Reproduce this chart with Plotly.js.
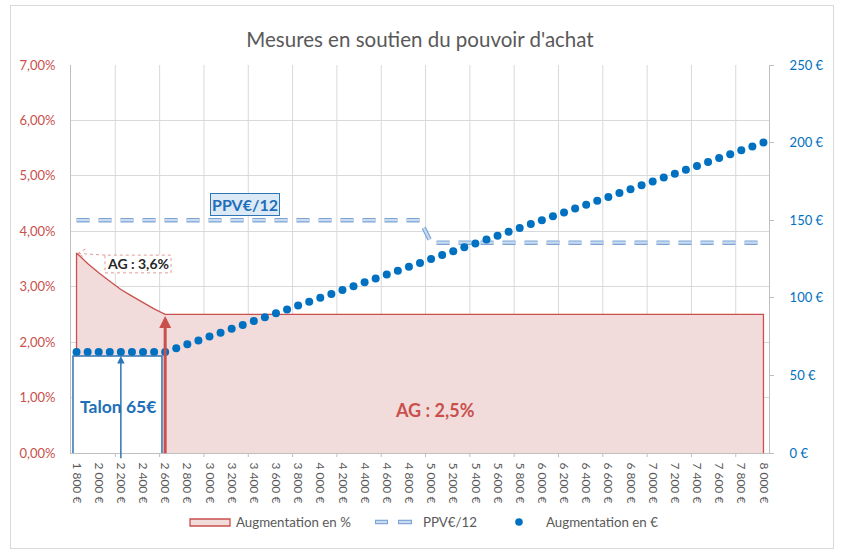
<!DOCTYPE html>
<html>
<head>
<meta charset="utf-8">
<script src="https://cdn.plot.ly/plotly-3.0.1.min.js"></script>
<style>
  html, body { margin: 0; padding: 0; background: #ffffff; }
  #wrap { position: relative; width: 842px; height: 555px; }
  #chart { position: absolute; left: 0; top: 0; width: 842px; height: 555px; }
  #frame { position: absolute; left: 10px; top: 5px; width: 822px; height: 542px; border: 1px solid #d9d9d9; pointer-events: none; }
</style>
</head>
<body>
<div id="wrap"><div id="chart"></div><div id="frame"></div></div>
<script>
// ---- data ----
const salaries = [1800,1900,2000,2100,2200,2300,2400,2500,2600,2700,2800,2900,3000,3100,3200,3300,3400,3500,3600,3700,3800,3900,4000,4100,4200,4300,4400,4500,4600,4700,4800,4900,5000,5100,5200,5300,5400,5500,5600,5700,5800,5900,6000,6100,6200,6300,6400,6500,6600,6700,6800,6900,7000,7100,7200,7300,7400,7500,7600,7700,7800,7900,8000];

const augmentationPct = [3.61,3.42,3.25,3.10,2.95,2.83,2.71,2.60,2.50,2.5,2.5,2.5,2.5,2.5,2.5,2.5,2.5,2.5,2.5,2.5,2.5,2.5,2.5,2.5,2.5,2.5,2.5,2.5,2.5,2.5,2.5,2.5,2.5,2.5,2.5,2.5,2.5,2.5,2.5,2.5,2.5,2.5,2.5,2.5,2.5,2.5,2.5,2.5,2.5,2.5,2.5,2.5,2.5,2.5,2.5,2.5,2.5,2.5,2.5,2.5,2.5,2.5,2.5];

const augmentationEur = [65,65,65,65,65,65,65,65,65,67.5,70,72.5,75,77.5,80,82.5,85,87.5,90,92.5,95,97.5,100,102.5,105,107.5,110,112.5,115,117.5,120,122.5,125,127.5,130,132.5,135,137.5,140,142.5,145,147.5,150,152.5,155,157.5,160,162.5,165,167.5,170,172.5,175,177.5,180,182.5,185,187.5,190,192.5,195,197.5,200];

const ppvMonthly = [150,150,150,150,150,150,150,150,150,150,150,150,150,150,150,150,150,150,150,150,150,150,150,150,150,150,150,150,150,150,150,150,135.5,135.5,135.5,135.5,135.5,135.5,135.5,135.5,135.5,135.5,135.5,135.5,135.5,135.5,135.5,135.5,135.5,135.5,135.5,135.5,135.5,135.5,135.5,135.5,135.5,135.5,135.5,135.5,135.5,135.5,135.5];

const xTickVals = [1800,2000,2200,2400,2600,2800,3000,3200,3400,3600,3800,4000,4200,4400,4600,4800,5000,5200,5400,5600,5800,6000,6200,6400,6600,6800,7000,7200,7400,7600,7800,8000];
const xTickText = ["1 800 €","2 000 €","2 200 €","2 400 €","2 600 €","2 800 €","3 000 €","3 200 €","3 400 €","3 600 €","3 800 €","4 000 €","4 200 €","4 400 €","4 600 €","4 800 €","5 000 €","5 200 €","5 400 €","5 600 €","5 800 €","6 000 €","6 200 €","6 400 €","6 600 €","6 800 €","7 000 €","7 200 €","7 400 €","7 600 €","7 800 €","8 000 €"];
const xGridVals = [2150,2550,2950,3350,3750,4150,4550,4950,5350,5750,6150,6550,6950,7350,7750];

const leftTickVals = [0,1,2,3,4,5,6,7];
const leftTickText = ["0,00%","1,00%","2,00%","3,00%","4,00%","5,00%","6,00%","7,00%"];
const rightTickVals = [0,50,100,150,200,250];
const rightTickText = ["0 €","50 €","100 €","150 €","200 €","250 €"];

const seriesNames = ["Augmentation en %", "PPV€/12", "Augmentation en €"];

// ---- styles ----
const FONT = 'Lato, "Open Sans", sans-serif';
const RED = '#c9504d';
const BLUE = '#0070c0';
const BOXBLUE = '#2e75b6';
const GRID = '#d9d9d9';
const GREY = '#595959';
const PPV_OUT = '#7ba3d6';
const PPV_IN = '#c9dbf1';

// area closed to zero at both ends
const areaX = [salaries[0]].concat(salaries, [salaries[salaries.length - 1]]);
const areaY = [0].concat(augmentationPct, [0]);

const traces = [
  {
    name: seriesNames[0],
    x: areaX, y: areaY,
    type: 'scatter', mode: 'lines',
    line: {color: RED, width: 1.3},
    fill: 'tozeroy', fillcolor: '#f2dcdb',
    xaxis: 'x', yaxis: 'y'
  },
  {
    name: seriesNames[1],
    x: salaries, y: ppvMonthly,
    type: 'scatter', mode: 'lines',
    line: {color: PPV_OUT, width: 4.5, dash: '13px,9px'},
    xaxis: 'x', yaxis: 'y2'
  },
  {
    name: seriesNames[1] + ' (inner)',
    x: salaries, y: ppvMonthly,
    type: 'scatter', mode: 'lines',
    line: {color: PPV_IN, width: 2.2, dash: '13px,9px'},
    xaxis: 'x', yaxis: 'y2'
  },
  {
    name: seriesNames[2],
    x: salaries, y: augmentationEur,
    type: 'scatter', mode: 'markers',
    marker: {color: BLUE, size: 8},
    xaxis: 'x', yaxis: 'y2'
  }
];

const shapes = [];
// vertical gridlines and x ticks at category-group boundaries
xGridVals.forEach(function (v) {
  shapes.push({type: 'line', xref: 'x', yref: 'paper', x0: v, x1: v, y0: 0, y1: 1,
               line: {color: GRID, width: 1}, layer: 'below'});
  shapes.push({type: 'line', xref: 'x', yref: 'paper', x0: v, x1: v, y0: 0, y1: -0.0105,
               line: {color: '#bfbfbf', width: 1}, layer: 'above'});
});
// Talon box
shapes.push({type: 'rect', xref: 'x', yref: 'y', x0: 1768, x1: 2571, y0: -0.07, y1: 1.75,
   line: {color: BOXBLUE, width: 1.5}, fillcolor: '#ffffff', layer: 'above'});
// AG 3,6% dashed box
shapes.push({type: 'rect', xref: 'x', yref: 'y', x0: 2057, x1: 2653, y0: 3.25, y1: 3.57,
   line: {color: '#e39a98', width: 1, dash: 'dot'}, fillcolor: '#ffffff', layer: 'above'});
// leader line to the start of the curve
shapes.push({type: 'path', xref: 'x', yref: 'y',
   path: 'M 2057 3.57 L 1815 3.6 M 1880 3.68 L 1810 3.6 L 1880 3.52',
   line: {color: '#e39a98', width: 1, dash: 'dot'}, layer: 'above'});

// ---- manual legend (paper coordinates) ----
const LY = -0.1778;
shapes.push({type: 'rect', xref: 'paper', yref: 'paper', x0: 0.1705, x1: 0.2278, y0: -0.1881, y1: -0.1701,
   line: {color: RED, width: 1.3}, fillcolor: '#f2dcdb'});
[[0.4355, 0.4542], [0.4685, 0.4885]].forEach(function (d) {
  shapes.push({type: 'line', xref: 'paper', yref: 'paper', x0: d[0], x1: d[1], y0: LY, y1: LY,
               line: {color: PPV_OUT, width: 4.5}});
  shapes.push({type: 'line', xref: 'paper', yref: 'paper', x0: d[0] + 0.0015, x1: d[1] - 0.0015, y0: LY, y1: LY,
               line: {color: PPV_IN, width: 2.2}});
});
shapes.push({type: 'circle', xref: 'paper', yref: 'paper', x0: 0.6364, x1: 0.6472, y0: -0.1875, y1: -0.1681,
   line: {color: BLUE, width: 0}, fillcolor: BLUE});

const legendFont = {family: FONT, size: 13.3, color: GREY};
const annotations = [
  {xref: 'paper', yref: 'paper', x: 0.2330, y: LY, xanchor: 'left', yanchor: 'middle',
   text: seriesNames[0], showarrow: false, font: legendFont},
  {xref: 'paper', yref: 'paper', x: 0.5010, y: LY, xanchor: 'left', yanchor: 'middle',
   text: seriesNames[1], showarrow: false, font: legendFont},
  {xref: 'paper', yref: 'paper', x: 0.6771, y: LY, xanchor: 'left', yanchor: 'middle',
   text: seriesNames[2], showarrow: false, font: legendFont},

  {xref: 'x', yref: 'y2', x: 3320, y: 160.4, text: '<b>PPV€/12</b>', showarrow: false,
   font: {family: FONT, size: 16, color: '#1f6fb8'}, bgcolor: '#dce9f7',
   bordercolor: BOXBLUE, borderwidth: 1, borderpad: 1},
  {xref: 'x', yref: 'y', x: 2355, y: 3.41, text: '<b>AG : 3,6%</b>', showarrow: false,
   font: {family: FONT, size: 14, color: '#262626'}},
  // blue arrow inside talon box
  {xref: 'x', yref: 'y', axref: 'x', ayref: 'y', x: 2200, y: 1.75, ax: 2200, ay: -0.12,
   showarrow: true, arrowhead: 2, arrowsize: 1, arrowwidth: 1.5, arrowcolor: BOXBLUE, text: ''},
  {xref: 'x', yref: 'y', x: 2170, y: 0.83, text: '<b>Talon 65€</b>', showarrow: false,
   font: {family: FONT, size: 17.5, color: '#1f6fb8'}},
  // red arrow at 2 600 €
  {xref: 'x', yref: 'y', axref: 'x', ayref: 'y', x: 2600, y: 2.47, ax: 2600, ay: -0.03,
   showarrow: true, arrowhead: 2, arrowsize: 0.8, arrowwidth: 3, arrowcolor: RED, text: ''},
  {xref: 'x', yref: 'y', x: 5035, y: 0.78, text: '<b>AG : 2,5%</b>', showarrow: false,
   font: {family: FONT, size: 18, color: RED}}
];

const layout = {
  width: 842, height: 555,
  margin: {l: 71, r: 73, t: 65, b: 102, pad: 0},
  paper_bgcolor: '#ffffff', plot_bgcolor: '#ffffff',
  font: {family: FONT, size: 12, color: GREY},
  title: {text: "Mesures en soutien du pouvoir d'achat", x: 0.5, xref: 'paper', xanchor: 'center',
          y: 1, yref: 'container', yanchor: 'top', pad: {t: 33},
          font: {family: FONT, size: 20.5, color: GREY}},
  showlegend: false,
  xaxis: {
    range: [1750, 8050], type: 'linear',
    tickmode: 'array', tickvals: xTickVals, ticktext: xTickText,
    tickangle: 90, ticks: '', ticklabelstandoff: 6,
    tickfont: {family: FONT, size: 12, color: GREY},
    showgrid: false,
    showline: true, linecolor: '#bfbfbf', linewidth: 1, zeroline: false
  },
  yaxis: {
    range: [0, 7], tickmode: 'array', tickvals: leftTickVals, ticktext: leftTickText,
    tickfont: {family: FONT, size: 13, color: RED},
    showgrid: true, gridcolor: GRID, gridwidth: 1,
    showline: true, linecolor: '#bfbfbf', zeroline: false, ticks: '', ticklabelstandoff: 12
  },
  yaxis2: {
    overlaying: 'y', side: 'right', anchor: 'x',
    range: [0, 250], tickmode: 'array', tickvals: rightTickVals, ticktext: rightTickText,
    tickfont: {family: FONT, size: 13, color: BLUE},
    showgrid: false, showline: true, linecolor: '#bfbfbf', zeroline: false,
    ticks: 'outside', ticklen: 4, tickcolor: '#bfbfbf', ticklabelstandoff: 13
  },
  shapes: shapes,
  annotations: annotations
};

Plotly.newPlot('chart', traces, layout, {displayModeBar: false, staticPlot: true});
</script>
</body>
</html>
